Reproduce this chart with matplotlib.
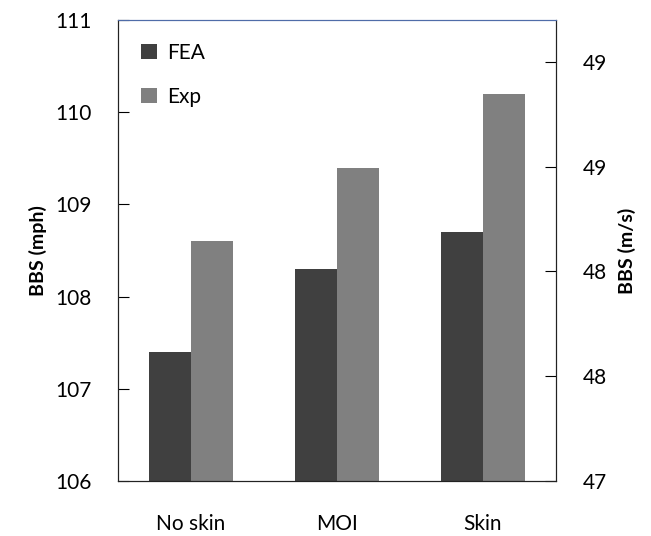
import matplotlib.pyplot as plt
import numpy as np
from matplotlib.ticker import FuncFormatter

plt.rcParams['font.family'] = ['Lato', 'DejaVu Sans']

# data (mph)
categories = ['No skin', 'MOI', 'Skin']
fea = [107.4, 108.3, 108.7]
exp = [108.6, 109.4, 110.2]

fig = plt.figure(figsize=(6.51, 5.36), dpi=100)
ax = fig.add_axes([118/651, 1 - 481/536, 438/651, 461/536])

x = np.arange(len(categories))
w = 0.29
ax.bar(x - w/2, [v - 106 for v in fea], w, bottom=106, color='#404040', label='FEA')
ax.bar(x + w/2, [v - 106 for v in exp], w, bottom=106, color='#808080', label='Exp')

ax.set_xlim(-0.5, 2.5)
ax.set_ylim(106, 111)
ax.set_xticks(x)
ax.set_xticklabels(categories, fontsize=15)
ax.tick_params(axis='x', length=0, pad=24)
ax.tick_params(axis='y', direction='in', length=8, labelsize=15, pad=19)
ax.set_ylabel('BBS (mph)', fontsize=14, fontweight='bold', labelpad=6)

for s in ['left', 'bottom', 'right']:
    ax.spines[s].set_color('#222222')
ax.spines['top'].set_color('#4F6CA8')

ax2 = ax.twinx()
ax2.set_ylim(47, 49.2)
ax2.set_yticks([47, 47.5, 48, 48.5, 49])
ax2.yaxis.set_major_formatter(FuncFormatter(lambda v, p: '%d' % int(np.floor(v + 0.5))))
ax2.tick_params(axis='y', direction='in', length=8, labelsize=15, pad=19)
ax2.set_ylabel('BBS (m/s)', fontsize=14, fontweight='bold', labelpad=8)
for s in ['left', 'bottom', 'right']:
    ax2.spines[s].set_color('#222222')
ax2.spines['top'].set_color('#4F6CA8')

leg = ax.legend(loc='upper left', frameon=False, fontsize=15, handlelength=0.75,
                handleheight=0.75, handletextpad=0.5, labelspacing=1.15,
                borderaxespad=0.7, bbox_to_anchor=(0.0, 1.0))

fig.savefig('out.png', dpi=100)
